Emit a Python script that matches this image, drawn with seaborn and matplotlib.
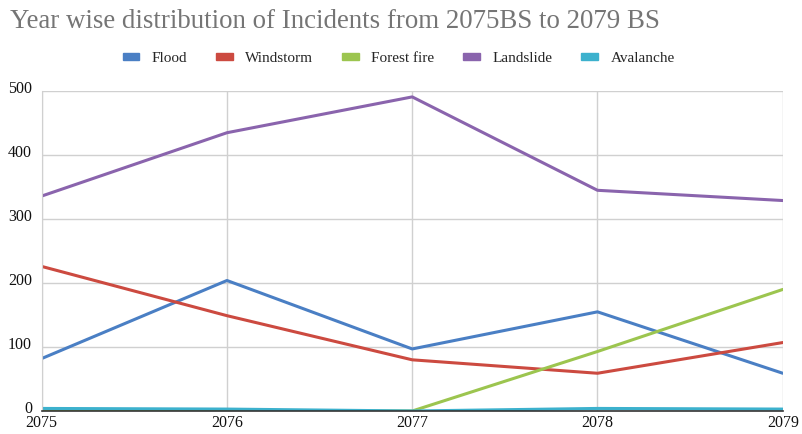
import matplotlib
matplotlib.use("Agg")
import matplotlib.pyplot as plt
import matplotlib.transforms as mtransforms
import seaborn as sns
import pandas as pd

years = [2075, 2076, 2077, 2078, 2079]
flood = [82, 204, 97, 155, 59]
windstorm = [226, 149, 80, 59, 107]
forest_fire = [0, 0, 0, 93, 190]
landslide = [336, 435, 491, 345, 329]
avalanche = [4, 3, 0, 4, 3]
series_names = ["Flood", "Windstorm", "Forest fire", "Landslide", "Avalanche"]
colors = ["#4a7fc4", "#cc4a40", "#9cc54f", "#8a64ad", "#3cb1cd"]

df = pd.DataFrame({"Year": years, "Flood": flood, "Windstorm": windstorm,
                   "Forest fire": forest_fire, "Landslide": landslide,
                   "Avalanche": avalanche})
long = df.melt(id_vars="Year", var_name="Type", value_name="Count")

sns.set_style("white")
plt.rcParams["font.family"] = ["Liberation Serif", "DejaVu Serif"]

fig = plt.figure(figsize=(8.02, 4.34), dpi=100)
ax = fig.add_axes([0.052, 0.053, 0.924, 0.737])

sns.lineplot(data=long, x="Year", y="Count", hue="Type", hue_order=series_names,
             palette=colors, linewidth=2.2, ax=ax, legend=False)

ax.set_xlim(2075, 2079)
ax.set_ylim(0, 500)
ax.set_xticks(years)
ax.set_xticklabels([str(y) for y in years])
ax.set_yticks([0, 100, 200, 300, 400, 500])
ax.grid(True, color="#d0d0d0", linewidth=1)
ax.set_axisbelow(True)
for s in ["top", "right"]:
    ax.spines[s].set_visible(False)
ax.spines["left"].set_color("#d0d0d0")
ax.spines["bottom"].set_color("#333333")
ax.spines["bottom"].set_linewidth(1.2)
ax.tick_params(axis="both", length=0, labelsize=11.5, colors="#111111")
ax.tick_params(axis="x", pad=3)
ax.tick_params(axis="y", pad=7)

offset = mtransforms.ScaledTranslation(0, 3 / 72, fig.dpi_scale_trans)
for lbl in ax.get_yticklabels():
    lbl.set_transform(lbl.get_transform() + offset)

ax.set_xlabel("")
ax.set_ylabel("")

fig.text(0.012, 0.95, "Year wise distribution of Incidents from 2075BS to 2079 BS",
         fontsize=19.4, color="#757575", ha="left", va="center")

from matplotlib.patches import Patch
handles = [Patch(facecolor=c, edgecolor=c) for c in colors]
fig.legend(handles, series_names, loc="center", bbox_to_anchor=(0.497, 0.865),
           ncol=5, frameon=False, fontsize=11, handlelength=1.1, handleheight=0.35,
           columnspacing=1.9, handletextpad=0.8)

fig.savefig("out.png", dpi=100)
